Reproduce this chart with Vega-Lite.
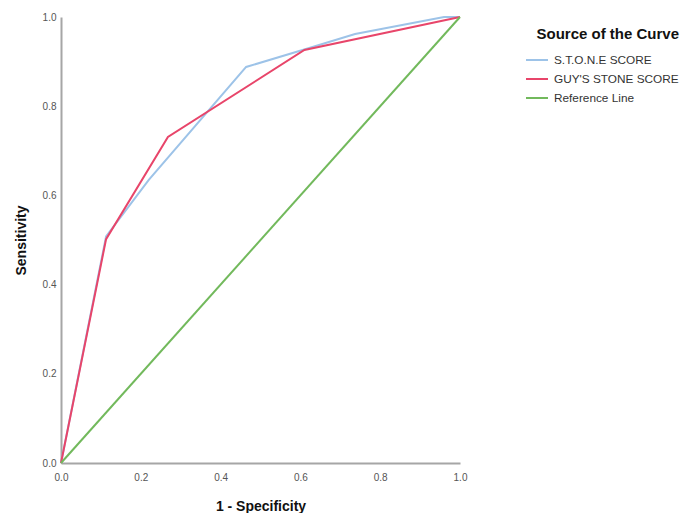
{
  "$schema": "https://vega.github.io/schema/vega-lite/v6.json",
  "width": 399,
  "height": 446,
  "autosize": "none",
  "padding": {"left": 61, "top": 17, "right": 232, "bottom": 50},
  "background": "white",
  "config": {
    "view": {"stroke": null},
    "font": "Liberation Sans"
  },
  "data": {
    "values": [
      {"series": "S.T.O.N.E SCORE", "fpr": 0.0, "tpr": 0.0},
      {"series": "S.T.O.N.E SCORE", "fpr": 0.113, "tpr": 0.508},
      {"series": "S.T.O.N.E SCORE", "fpr": 0.22, "tpr": 0.635},
      {"series": "S.T.O.N.E SCORE", "fpr": 0.464, "tpr": 0.888},
      {"series": "S.T.O.N.E SCORE", "fpr": 0.62, "tpr": 0.93},
      {"series": "S.T.O.N.E SCORE", "fpr": 0.737, "tpr": 0.962},
      {"series": "S.T.O.N.E SCORE", "fpr": 0.96, "tpr": 1.0},
      {"series": "S.T.O.N.E SCORE", "fpr": 1.0, "tpr": 1.0},
      {"series": "GUY'S STONE SCORE", "fpr": 0.0, "tpr": 0.0},
      {"series": "GUY'S STONE SCORE", "fpr": 0.113, "tpr": 0.502},
      {"series": "GUY'S STONE SCORE", "fpr": 0.268, "tpr": 0.731},
      {"series": "GUY'S STONE SCORE", "fpr": 0.61, "tpr": 0.926},
      {"series": "GUY'S STONE SCORE", "fpr": 1.0, "tpr": 1.0},
      {"series": "Reference Line", "fpr": 0.0, "tpr": 0.0},
      {"series": "Reference Line", "fpr": 1.0, "tpr": 1.0}
    ]
  },
  "mark": {"type": "line", "strokeWidth": 2},
  "encoding": {
    "x": {
      "field": "fpr", "type": "quantitative",
      "scale": {"domain": [0, 1], "nice": false},
      "axis": {
        "title": "1 - Specificity", "values": [0, 0.2, 0.4, 0.6, 0.8, 1.0], "format": ".1f",
        "grid": false, "ticks": false, "domainColor": "#a6a6a6", "domainWidth": 2,
        "labelColor": "#555555", "labelFontSize": 10, "labelPadding": 9, "labelFlush": false,
        "titleFontSize": 14, "titleFontWeight": "bold", "titleColor": "#111111", "titlePadding": 17
      }
    },
    "y": {
      "field": "tpr", "type": "quantitative",
      "scale": {"domain": [0, 1], "nice": false},
      "axis": {
        "title": "Sensitivity", "values": [0, 0.2, 0.4, 0.6, 0.8, 1.0], "format": ".1f",
        "grid": false, "ticks": false, "domainColor": "#a6a6a6", "domainWidth": 2,
        "labelColor": "#555555", "labelFontSize": 10, "labelPadding": 5, "labelFlush": false,
        "titleFontSize": 14, "titleFontWeight": "bold", "titleColor": "#111111", "titlePadding": 14
      }
    },
    "color": {
      "field": "series", "type": "nominal",
      "scale": {
        "domain": ["S.T.O.N.E SCORE", "GUY'S STONE SCORE", "Reference Line"],
        "range": ["#9dc3e8", "#e8456a", "#72b95c"]
      },
      "legend": {
        "title": "Source of the Curve",
        "orient": "right",
        "offset": 51,
        "padding": 10,
        "titleFontSize": 15, "titleFontWeight": "bold", "titleColor": "#111111",
        "titleAnchor": "end", "titleAlign": "right", "titlePadding": 6,
        "labelFontSize": 11.8, "labelColor": "#333333", "labelOffset": 5,
        "symbolType": "stroke", "symbolStrokeWidth": 2, "symbolSize": 484,
        "rowPadding": -5
      }
    },
    "order": {"field": "fpr", "type": "quantitative"}
  }
}
